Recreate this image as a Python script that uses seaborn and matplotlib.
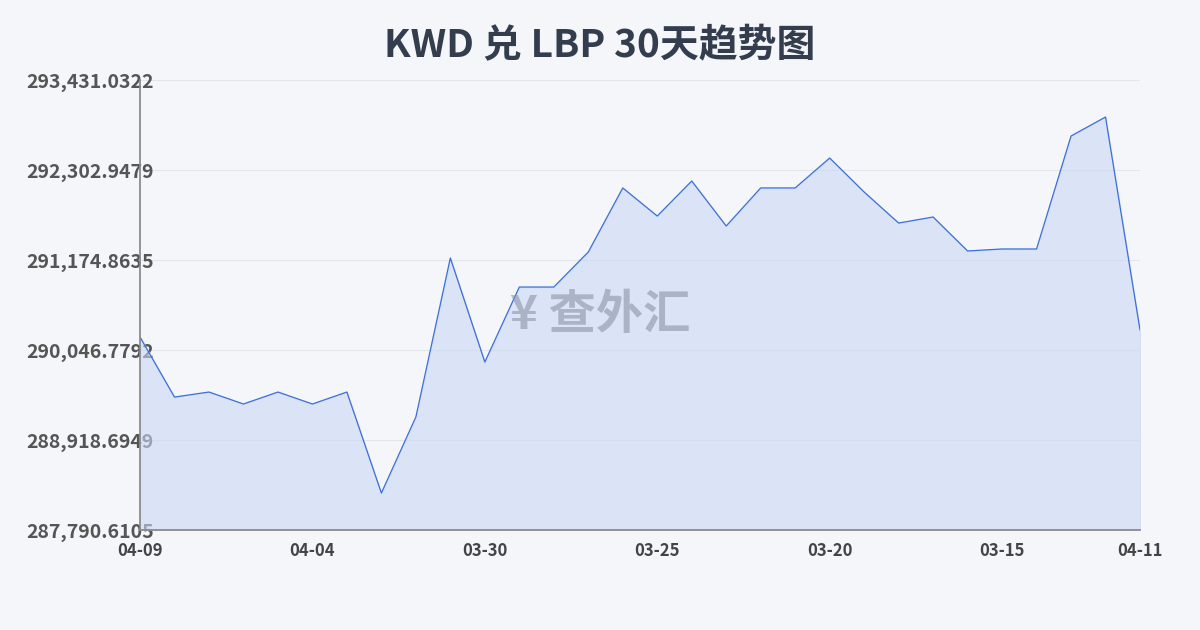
import matplotlib
matplotlib.use("Agg")
import matplotlib.pyplot as plt
import seaborn as sns
import numpy as np
import pandas as pd

dates = ["04-09","04-08","04-07","04-06","04-05","04-04","04-03","04-02","04-01","03-31",
         "03-30","03-29","03-28","03-27","03-26","03-25","03-24","03-23","03-22","03-21",
         "03-20","03-19","03-18","03-17","03-16","03-15","03-14","03-13","03-12","03-11"]
values = [290209.6,289457,289520,289370,289520,289370,289520,288254,289207,291200,
          289896,290836,290836,291275,292078,291726,292165,291601,292078,292078,
          292453,292027,291638,291714,291288,291313,291313,292729,292967,290298]
yticks = [287790.6105,288918.6949,290046.7792,291174.8635,292302.9479,293431.0322]
xtick_pos = [0,5,10,15,20,25,29]
xtick_labels = ["04-09","04-04","03-30","03-25","03-20","03-15","04-11"]

sns.set_theme(style="white")
plt.rcParams['font.family'] = ['Noto Sans CJK SC', 'DejaVu Sans']

fig = plt.figure(figsize=(12, 6.3), dpi=100)
fig.patch.set_facecolor("#f4f6f9")
ax = fig.add_axes([140/1200, 100/630, 1000/1200, 450/630])
ax.set_facecolor("#f4f6f9")
df = pd.DataFrame({"i": np.arange(len(values)), "v": values})
sns.lineplot(data=df, x="i", y="v", ax=ax, color="#3d6fd6", linewidth=0.9)
ax.fill_between(df["i"], df["v"], yticks[0], color="#c9d8f5", alpha=0.6)
ax.set_xlim(0, len(values)-1)
ax.set_ylim(yticks[0], yticks[-1])
ax.set_yticks(yticks)
ax.set_yticklabels([f"{t:,.4f}" for t in yticks], fontsize=14, color="#555", fontweight="bold")
ax.set_xticks(xtick_pos)
ax.set_xticklabels(xtick_labels, fontsize=12, color="#444", fontweight="bold")
ax.grid(axis="y", color="#e2e5ea", linewidth=0.8)
for s in ["top", "right"]:
    ax.spines[s].set_visible(False)
ax.spines["left"].set_color("#888")
ax.spines["bottom"].set_color("#888")
ax.tick_params(axis="x", length=5, color="#888")
ax.tick_params(axis="y", length=0, pad=-10)
ax.set_xlabel(""); ax.set_ylabel("")
fig.text(0.5, 0.927, "KWD 兑 LBP 30天趋势图", ha="center", va="center",
         fontsize=28, fontweight="bold", color="#333d4d")
fig.text(0.5, 0.50, "¥ 查外汇", ha="center", va="center", fontsize=34,
         fontweight="bold", color="#8a94a6", alpha=0.6)
fig.savefig("out.png", dpi=100)
